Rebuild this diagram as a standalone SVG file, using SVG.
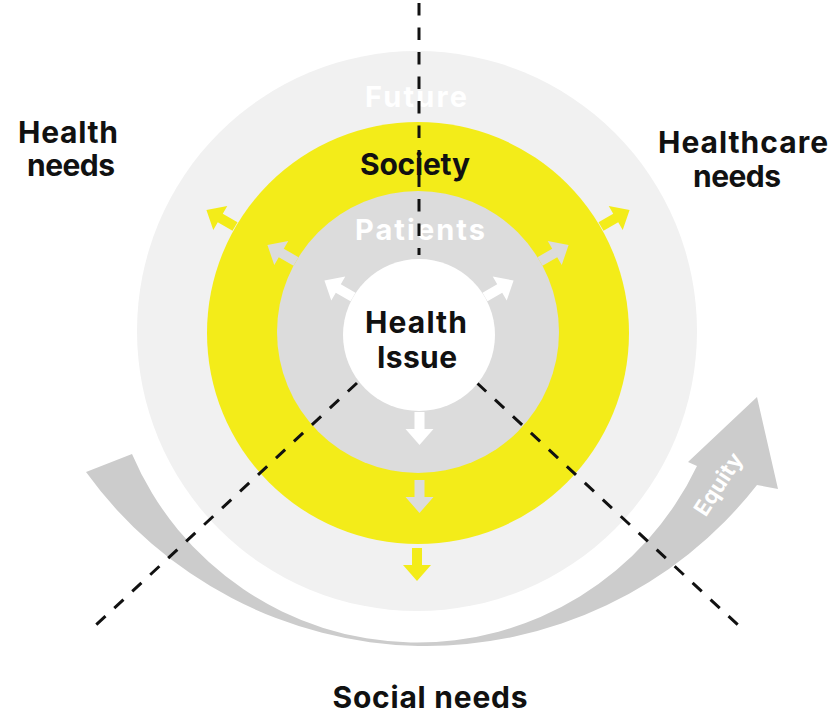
<svg xmlns="http://www.w3.org/2000/svg" width="830" height="716" viewBox="0 0 830 716">
<style>
.lbl{font-family:Inter,"DejaVu Sans",sans-serif;font-weight:700;font-size:30px;text-anchor:middle;fill:#111}
.wlbl{font-family:Inter,"DejaVu Sans",sans-serif;font-weight:700;font-size:29px;text-anchor:middle;fill:#fff}
.dash{fill:none;stroke:#111;stroke-width:3;stroke-dasharray:12.5 12}
</style>
<defs>
<path id="arr" d="M-5,0 H5 V17 H14 L0,33 L-14,17 H-5 Z"/>
</defs>
<rect width="830" height="716" fill="#fff"/>
<g id="equity">
<path d="M86,472 A420 420 0 0 0 757,485 L778,489 L757,397 L688,462 L697,466 A310 310 0 0 1 132,454 Z" fill="#cccccc"/>
<text transform="translate(718,484) rotate(-57)" x="0" y="8" font-family="Inter,'DejaVu Sans',sans-serif" font-weight="700" font-size="22" fill="#fff" text-anchor="middle" textLength="70" lengthAdjust="spacing">Equity</text>
</g>
<g id="future">
<circle cx="417" cy="331" r="280" fill="#f1f1f1"/>
<text class="wlbl" x="416" y="107" textLength="102" lengthAdjust="spacing">Future</text>
</g>
<g id="society">
<circle cx="418" cy="333" r="211" fill="#f3ec19"/>
<text class="lbl" x="415" y="175" font-size="28" textLength="110" lengthAdjust="spacing">Society</text>
</g>
<g id="patients">
<circle cx="418" cy="332" r="141" fill="#dcdcdc"/>
<text class="wlbl" x="420" y="240" textLength="130" lengthAdjust="spacing">Patients</text>
</g>
<g id="arrows">
<use href="#arr" transform="translate(235,226.5) rotate(120)" fill="#f3ec19"/>
<use href="#arr" transform="translate(601,226.5) rotate(-120)" fill="#f3ec19"/>
<use href="#arr" transform="translate(417,548)" fill="#f3ec19"/>
<use href="#arr" transform="translate(296,261.5) rotate(120)" fill="#dcdcdc"/>
<use href="#arr" transform="translate(540,261.5) rotate(-120)" fill="#dcdcdc"/>
<use href="#arr" transform="translate(419.5,480)" fill="#dcdcdc"/>
<use href="#arr" transform="translate(353,297) rotate(120)" fill="#fff"/>
<use href="#arr" transform="translate(485,297) rotate(-120)" fill="#fff"/>
<use href="#arr" transform="translate(419.5,412)" fill="#fff"/>
</g>
<g id="connectors">
<path class="dash" d="M419,3 V255"/>
<path class="dash" d="M357,383 L96,625"/>
<path class="dash" d="M477,383 L738,625"/>
</g>
<g id="health-issue">
<circle cx="419" cy="335" r="76" fill="#fff"/>
<text class="lbl" x="416" y="333" textLength="102" lengthAdjust="spacing">Health</text>
<text class="lbl" x="417" y="368" textLength="80" lengthAdjust="spacing">Issue</text>
</g>
<g id="health-needs">
<text class="lbl" x="68" y="143" textLength="100" lengthAdjust="spacing">Health</text>
<text class="lbl" x="71" y="176" textLength="88" lengthAdjust="spacing">needs</text>
</g>
<g id="healthcare-needs">
<text class="lbl" x="743" y="153" textLength="170" lengthAdjust="spacing">Healthcare</text>
<text class="lbl" x="737" y="187" textLength="88" lengthAdjust="spacing">needs</text>
</g>
<g id="social-needs">
<text class="lbl" x="430" y="708" textLength="195" lengthAdjust="spacing">Social needs</text>
</g>
</svg>
